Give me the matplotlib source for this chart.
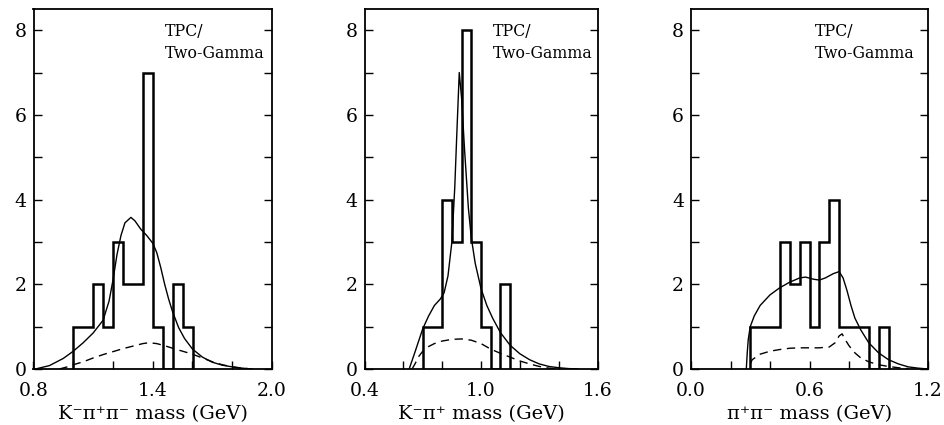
import numpy as np
import matplotlib.pyplot as plt
from matplotlib.ticker import MultipleLocator

plt.rcParams['font.family'] = ['DejaVu Serif']

# Гістограми (ширина біну 0.05 ГеВ)
edges1 = np.arange(1.00, 1.6001, 0.05)
counts1 = [1, 1, 2, 1, 3, 2, 2, 7, 1, 0, 2, 1]

edges2 = np.arange(0.70, 1.1501, 0.05)
counts2 = [1, 1, 4, 3, 8, 3, 1, 0, 2]

edges3 = np.arange(0.30, 1.0001, 0.05)
counts3 = [1, 1, 1, 3, 2, 3, 1, 3, 4, 1, 1, 1, 0, 1]

# Підгонка (суцільна) і фон (пунктир)
fit1_x = [0.81, 0.88, 0.95, 1.00, 1.05, 1.10, 1.15, 1.18, 1.20, 1.22, 1.24, 1.26, 1.29,
          1.31, 1.34, 1.37, 1.40, 1.42, 1.44, 1.46, 1.48, 1.50, 1.53, 1.56, 1.60, 1.65,
          1.70, 1.75, 1.80, 1.85, 1.90]
fit1_y = [0.0, 0.08, 0.25, 0.42, 0.62, 0.85, 1.15, 1.6, 2.1, 2.7, 3.15, 3.45, 3.58,
          3.5, 3.3, 3.15, 2.97, 2.75, 2.4, 2.0, 1.65, 1.35, 0.98, 0.72, 0.47, 0.28,
          0.16, 0.09, 0.05, 0.02, 0.0]
bg1_x = [0.93, 0.97, 1.00, 1.05, 1.10, 1.15, 1.20, 1.25, 1.30, 1.35, 1.38, 1.42, 1.46,
         1.50, 1.55, 1.60, 1.65, 1.70, 1.75, 1.80, 1.85, 1.90]
bg1_y = [0.0, 0.05, 0.1, 0.17, 0.26, 0.34, 0.41, 0.48, 0.54, 0.6, 0.62, 0.6, 0.55,
         0.49, 0.42, 0.35, 0.26, 0.17, 0.1, 0.05, 0.02, 0.0]

fit2_x = [0.63, 0.66, 0.70, 0.73, 0.76, 0.79, 0.81, 0.83, 0.85, 0.865, 0.875, 0.888,
          0.90, 0.915, 0.935, 0.95, 0.97, 1.00, 1.03, 1.06, 1.10, 1.15, 1.20, 1.25,
          1.30, 1.35, 1.40, 1.45, 1.50]
fit2_y = [0.0, 0.4, 0.95, 1.25, 1.5, 1.65, 1.8, 2.2, 3.0, 4.3, 5.5, 7.0,
          6.4, 5.2, 3.8, 3.1, 2.5, 1.9, 1.5, 1.2, 0.86, 0.56, 0.36, 0.22,
          0.12, 0.06, 0.03, 0.01, 0.0]
bg2_x = [0.645, 0.66, 0.68, 0.70, 0.73, 0.76, 0.80, 0.85, 0.90, 0.95, 1.00, 1.05,
         1.10, 1.15, 1.20, 1.25, 1.30, 1.35, 1.40]
bg2_y = [0.0, 0.12, 0.3, 0.42, 0.53, 0.6, 0.66, 0.7, 0.71, 0.68, 0.6, 0.47,
         0.37, 0.28, 0.19, 0.12, 0.06, 0.02, 0.0]

fit3_x = [0.28, 0.285, 0.29, 0.30, 0.32, 0.35, 0.40, 0.45, 0.50, 0.55, 0.58, 0.62,
          0.65, 0.68, 0.72, 0.75, 0.77, 0.79, 0.81, 0.83, 0.86, 0.90, 0.95, 1.00,
          1.05, 1.10, 1.15, 1.20]
fit3_y = [0.0, 0.4, 0.7, 1.0, 1.25, 1.5, 1.75, 1.92, 2.05, 2.15, 2.17, 2.12,
          2.1, 2.15, 2.25, 2.3, 2.15, 1.85, 1.5, 1.2, 0.92, 0.62, 0.38, 0.22,
          0.12, 0.05, 0.02, 0.0]
bg3_x = [0.30, 0.31, 0.35, 0.40, 0.45, 0.50, 0.55, 0.60, 0.65, 0.70, 0.73, 0.75,
         0.765, 0.78, 0.80, 0.83, 0.86, 0.90, 0.95, 1.00, 1.05, 1.10]
bg3_y = [0.12, 0.22, 0.35, 0.42, 0.46, 0.49, 0.5, 0.5, 0.5, 0.52, 0.62, 0.78,
         0.83, 0.7, 0.55, 0.38, 0.26, 0.17, 0.1, 0.06, 0.03, 0.01]

xlims = [(0.8, 2.0), (0.4, 1.6), (0.0, 1.2)]
xlabels = ['K⁻π⁺π⁻ mass (GeV)', 'K⁻π⁺ mass (GeV)', 'π⁺π⁻ mass (GeV)']
label_x = [0.55, 0.55, 0.523]

fig = plt.figure(figsize=(9.44, 4.25), dpi=100)
lefts = [33.5 / 944, 364.5 / 944, 691 / 944]
widths = [238.5 / 944, 233 / 944, 237 / 944]

panels = [
    (edges1, counts1, fit1_x, fit1_y, bg1_x, bg1_y),
    (edges2, counts2, fit2_x, fit2_y, bg2_x, bg2_y),
    (edges3, counts3, fit3_x, fit3_y, bg3_x, bg3_y),
]

for i, (ed, cn, fx, fy, bx, by) in enumerate(panels):
    ax = fig.add_axes([lefts[i], 56 / 425, widths[i], 360 / 425])
    ax.stairs(cn, ed, color='black', linewidth=1.8, baseline=0)
    ax.plot(fx, fy, color='black', linewidth=1.0)
    ax.plot(bx, by, color='black', linewidth=1.0, dashes=(6, 4))

    x0, x1 = xlims[i]
    ax.set_xlim(x0, x1)
    ax.set_ylim(0, 8.5)
    ax.set_xticks([x0, (x0 + x1) / 2, x1])
    ax.set_xticklabels([f'{x0:.1f}', f'{(x0 + x1) / 2:.1f}', f'{x1:.1f}'])
    ax.xaxis.set_minor_locator(MultipleLocator(0.2))
    ax.set_yticks([0, 2, 4, 6, 8])
    ax.yaxis.set_minor_locator(MultipleLocator(1))
    ax.tick_params(which='both', direction='in', right=True, top=False,
                   labelsize=13.5, width=1.0, length=6)
    ax.tick_params(axis='x', pad=9)
    ax.tick_params(axis='y', pad=5)
    for s in ax.spines.values():
        s.set_linewidth(1.3)

    ax.set_xlabel(xlabels[i], fontsize=14, labelpad=4)
    ax.text(label_x[i], 0.96, 'TPC/\nTwo-Gamma', transform=ax.transAxes,
            fontsize=11.3, va='top', ha='left', linespacing=1.35)

fig.savefig('out.png', dpi=100)
